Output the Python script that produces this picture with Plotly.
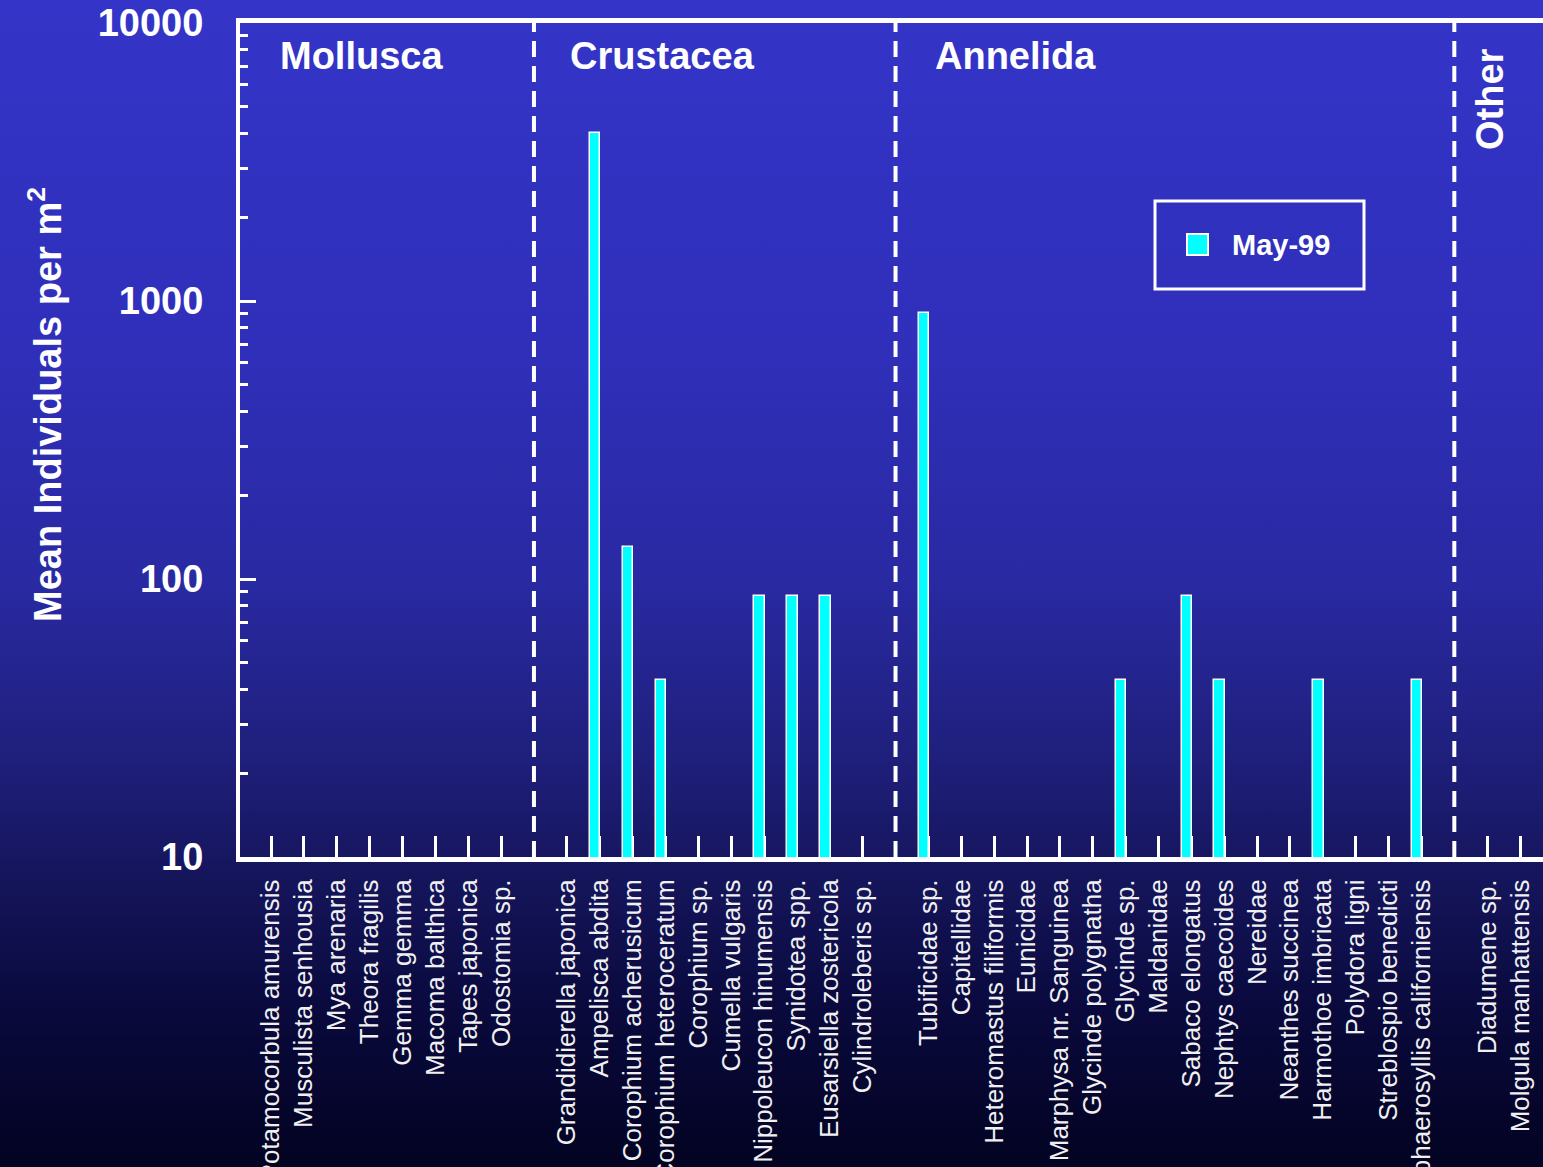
import base64
import plotly.graph_objects as go

# ---- data: mean individuals per m^2, May-99 survey (0 = not found) ----
mollusca = ["Potamocorbula amurensis", "Musculista senhousia", "Mya arenaria", "Theora fragilis",
            "Gemma gemma", "Macoma balthica", "Tapes japonica", "Odostomia sp."]
mollusca_may99 = [0, 0, 0, 0, 0, 0, 0, 0]

crustacea = ["Grandidierella japonica", "Ampelisca abdita", "Corophium acherusicum",
             "Corophium heteroceratum", "Corophium sp.", "Cumella vulgaris",
             "Nippoleucon hinumensis", "Synidotea spp.", "Eusarsiella zostericola",
             "Cylindroleberis sp."]
crustacea_may99 = [0, 4030, 130, 43.3, 0, 0, 86.6, 86.6, 86.6, 0]

annelida = ["Tubificidae sp.", "Capitellidae", "Heteromastus filiformis", "Eunicidae",
            "Marphysa nr. Sanguinea", "Glycinde polygnatha", "Glycinde sp.", "Maldanidae",
            "Sabaco elongatus", "Nephtys caecoides", "Nereidae", "Neanthes succinea",
            "Harmothoe imbricata", "Polydora ligni", "Streblospio benedicti",
            "Sphaerosyllis californiensis"]
annelida_may99 = [909, 0, 0, 0, 0, 0, 43.3, 0, 86.6, 43.3, 0, 0, 43.3, 0, 0, 43.3]

other = ["Diadumene sp.", "Molgula manhattensis"]
other_may99 = [0, 0]

group_names = ["Mollusca", "Crustacea", "Annelida", "Other"]
groups = [(mollusca, mollusca_may99), (crustacea, crustacea_may99),
          (annelida, annelida_may99), (other, other_may99)]

y_tick_values = [10, 100, 1000, 10000]
series_name = "May-99"

# ---- figure geometry (pixels) ----
W, H = 1543, 1167
ML, MR, MT, MB = 240, 0, 23, 310
PW, PH = W - ML - MR, H - MT - MB
STEP = 32.87          # pixel width of one category slot
X0_PX = 271           # pixel centre of the first species slot


def px_x(p):
    return (p - ML) / PW


def px_y(p):
    return (H - MB - p) / PH


def px_data_x(p):
    return (p - X0_PX) / STEP


# lay species out on a numeric axis, one empty slot between groups
positions, labels, values, separators = [], [], [], []
slot = 0
for names, vals in groups:
    for n, v in zip(names, vals):
        positions.append(slot)
        labels.append(n)
        values.append(v if v > 0 else None)
        slot += 1
    separators.append(slot)
    slot += 1
separators = separators[:-1]

FONT = "Liberation Sans, Arial, sans-serif"
WHITE = "#ffffff"

bar_w = 10.5 / STEP
bar_shift = -4.5 / STEP

fig = go.Figure()
fig.add_trace(go.Bar(
    x=positions, y=values, name=series_name,
    width=bar_w, offset=bar_shift - bar_w / 2,
    marker=dict(color="#00ffff", line=dict(color=WHITE, width=1.5)),
    showlegend=False,
))

# vertical background gradient
stops = [(0.00, "#3434c8"), (0.30, "#2f2fba"), (0.50, "#2929a2"), (0.65, "#1f1f7c"),
         (0.75, "#15155c"), (0.87, "#09093c"), (1.00, "#030322")]
stop_xml = "".join(f'<stop offset="{o}" stop-color="{c}"/>' for o, c in stops)
svg = ('<svg xmlns="http://www.w3.org/2000/svg" width="10" height="200" viewBox="0 0 10 200" '
       'preserveAspectRatio="none"><defs><linearGradient id="g" x1="0" y1="0" x2="0" y2="1">'
       f'{stop_xml}</linearGradient></defs><rect width="10" height="200" fill="url(#g)"/></svg>')
bg_src = "data:image/svg+xml;base64," + base64.b64encode(svg.encode()).decode()

shapes = []
for s in separators:
    shapes.append(dict(type="line", xref="x", yref="paper", x0=s, x1=s, y0=0, y1=1,
                       line=dict(color=WHITE, width=4, dash="16px,9px")))

# legend box
shapes.append(dict(type="rect", xref="paper", yref="paper",
                   x0=px_x(1155), x1=px_x(1364), y0=px_y(289), y1=px_y(201),
                   line=dict(color=WHITE, width=3), fillcolor="rgba(0,0,0,0)"))
shapes.append(dict(type="rect", xref="paper", yref="paper",
                   x0=px_x(1187), x1=px_x(1208), y0=px_y(255), y1=px_y(234),
                   line=dict(color=WHITE, width=2), fillcolor="#00ffff"))

group_label_px = {"Mollusca": 278, "Crustacea": 568, "Annelida": 933}
annotations = []
for gname in group_names:
    if gname == "Other":
        annotations.append(dict(text=gname, xref="x", yref="paper",
                                x=px_data_x(1490), y=px_y(99),
                                textangle=-90, showarrow=False, xanchor="center", yanchor="middle",
                                font=dict(family=FONT, size=38, color=WHITE, weight="bold")))
    else:
        annotations.append(dict(text=gname, xref="x", yref="paper",
                                x=px_data_x(group_label_px[gname]), y=px_y(33),
                                showarrow=False, xanchor="left", yanchor="top",
                                font=dict(family=FONT, size=38, color=WHITE, weight="bold")))

annotations.append(dict(text=series_name, xref="paper", yref="paper", x=px_x(1230), y=px_y(245),
                        showarrow=False, xanchor="left", yanchor="middle",
                        font=dict(family=FONT, size=29, color=WHITE, weight="bold")))

annotations.append(dict(text="Mean Individuals per m<sup>2</sup>", xref="paper", yref="paper",
                        x=px_x(45), y=px_y(405), textangle=-90, showarrow=False,
                        xanchor="center", yanchor="middle",
                        font=dict(family=FONT, size=38, color=WHITE, weight="bold")))

minor_vals = [m * 10 ** d for d in range(1, 4) for m in range(2, 10)]

fig.update_layout(
    width=W, height=H,
    margin=dict(l=ML, r=MR, t=MT, b=MB, autoexpand=False),
    paper_bgcolor="#1e1e78",
    plot_bgcolor="rgba(0,0,0,0)",
    bargap=0,
    showlegend=False,
    font=dict(family=FONT, color=WHITE),
    images=[dict(source=bg_src, xref="paper", yref="paper", x=px_x(0), y=px_y(0),
                 sizex=W / PW, sizey=H / PH, xanchor="left", yanchor="top",
                 sizing="stretch", layer="below")],
    shapes=shapes,
    annotations=annotations,
    xaxis=dict(
        range=[px_data_x(ML), px_data_x(W)],
        tickmode="array", tickvals=positions, ticktext=labels, tickangle=-90,
        ticks="inside", ticklen=21, tickwidth=2.5, tickcolor=WHITE,
        tickfont=dict(family=FONT, size=26, color="#f0f0f0"),
        ticklabelstandoff=7,
        showline=True, linecolor=WHITE, linewidth=5, mirror=True,
        showgrid=False, zeroline=False, layer="below traces", fixedrange=True,
    ),
    yaxis=dict(
        type="log", range=[1, 4],
        tickmode="array", tickvals=y_tick_values, ticktext=[str(v) for v in y_tick_values],
        ticks="inside", ticklen=16, tickwidth=2.5, tickcolor=WHITE,
        tickfont=dict(family=FONT, size=38, color=WHITE, weight="bold"),
        ticklabelstandoff=25,
        minor=dict(tickmode="array", tickvals=minor_vals, ticks="inside", ticklen=8,
                   tickwidth=2.5, tickcolor=WHITE, showgrid=False),
        showline=True, linecolor=WHITE, linewidth=4,
        showgrid=False, zeroline=False, layer="below traces", fixedrange=True,
    ),
)

fig.write_html("out.html")
